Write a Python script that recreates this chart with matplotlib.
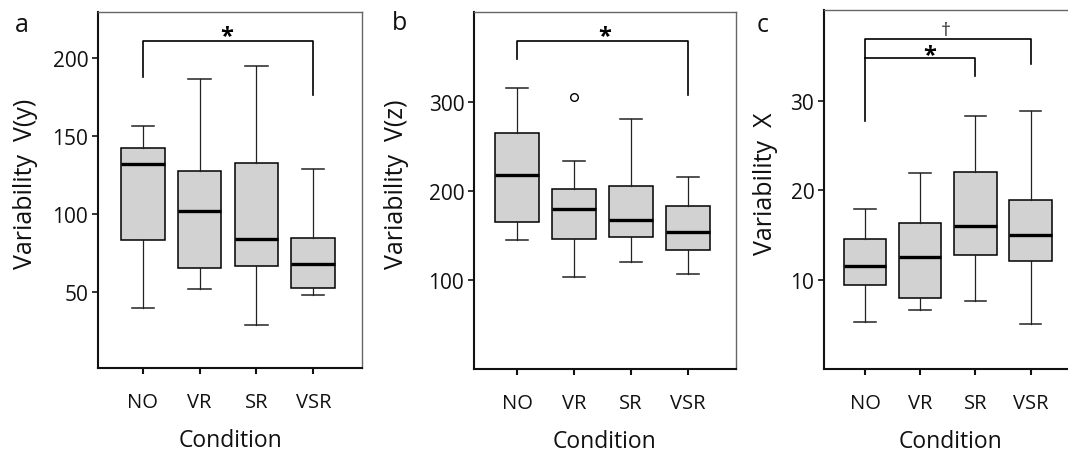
import matplotlib
matplotlib.use("Agg")
import matplotlib.pyplot as plt

plt.rcParams['font.family'] = ['Open Sans', 'DejaVu Sans']

conditions = ["NO", "VR", "SR", "VSR"]

# Panel a: Variability V(y)
a_whislo = [39.3, 51.8, 28.7, 47.6]
a_q1 = [82.9, 65.1, 66.6, 52.5]
a_med = [131.6, 101.5, 83.7, 67.7]
a_q3 = [142.1, 127.5, 132.2, 84.2]
a_whishi = [156.4, 186.3, 194.4, 128.8]
a_fliers = [[], [], [], []]

# Panel b: Variability V(z)
b_whislo = [145.1, 103.6, 120.4, 106.3]
b_q1 = [165.2, 145.9, 148.1, 133.9]
b_med = [217.3, 179.8, 166.8, 154.0]
b_q3 = [264.3, 201.9, 204.9, 183.2]
b_whishi = [315.1, 233.0, 280.7, 215.7]
b_fliers = [[], [305.4], [], []]

# Panel c: Variability X
c_whislo = [5.31, 6.63, 7.63, 5.09]
c_q1 = [9.46, 7.94, 12.71, 12.12]
c_med = [11.48, 12.57, 15.96, 14.95]
c_q3 = [14.55, 16.38, 22.1, 18.96]
c_whishi = [17.87, 21.9, 28.3, 28.9]
c_fliers = [[], [], [], []]

panels = [
    dict(letter="a", ylabel="Variability  V(y)", yticks=[50, 100, 150, 200],
         stats=(a_whislo, a_q1, a_med, a_q3, a_whishi, a_fliers),
         rect=[98, 362, 13, 369], xlim=(0.214, 4.856), ylim=(1.0, 229.3),
         ylab_x=38, letter_xy=(22, 25)),
    dict(letter="b", ylabel="Variability  V(z)", yticks=[100, 200, 300],
         stats=(b_whislo, b_q1, b_med, b_q3, b_whishi, b_fliers),
         rect=[474, 736, 13, 370], xlim=(0.238, 4.85), ylim=(0.0, 400.5),
         ylab_x=409, letter_xy=(400, 23)),
    dict(letter="c", ylabel="Variability  X", yticks=[10, 20, 30],
         stats=(c_whislo, c_q1, c_med, c_q3, c_whishi, c_fliers),
         rect=[824, 1078, 11, 370], xlim=(0.258, 4.856), ylim=(0.0, 40.2),
         ylab_x=778, letter_xy=(763, 25)),
]

W, H = 1068, 456
fig = plt.figure(figsize=(W / 100, H / 100), dpi=100)

axes = []
for p in panels:
    l, r, t, b = p["rect"]
    ax = fig.add_axes([l / W, (H - b) / H, (r - l) / W, (b - t) / H])
    axes.append(ax)
    wl, q1, md, q3, wh, fl = p["stats"]
    stats = []
    for i in range(len(conditions)):
        stats.append(dict(whislo=wl[i], q1=q1[i], med=md[i], q3=q3[i],
                          whishi=wh[i], fliers=fl[i], label=conditions[i]))
    ax.bxp(stats, positions=range(1, 5), widths=0.77, capwidths=0.39,
           patch_artist=True, showfliers=True,
           boxprops=dict(facecolor="#d2d2d2", edgecolor="black", linewidth=1.1),
           medianprops=dict(color="black", linewidth=2.4, solid_capstyle="butt"),
           whiskerprops=dict(color="#222222", linewidth=0.9),
           capprops=dict(color="#222222", linewidth=1.1),
           flierprops=dict(marker="o", markerfacecolor="white",
                           markeredgecolor="black", markersize=5.5,
                           markeredgewidth=1.0))
    ax.set_xlim(*p["xlim"])
    ax.set_ylim(*p["ylim"])
    ax.set_yticks(p["yticks"])
    ax.set_xticks(range(1, 5))
    ax.set_xticklabels(conditions)
    ax.tick_params(axis="y", direction="out", length=4, width=1.2, pad=3,
                   labelsize=15, colors="#111111")
    ax.tick_params(axis="x", direction="out", length=4, width=1.5, pad=13,
                   labelsize=14.5, colors="#111111")
    for s in ["left", "bottom"]:
        ax.spines[s].set_linewidth(1.5)
        ax.spines[s].set_color("#111111")
    for s in ["top", "right"]:
        ax.spines[s].set_linewidth(1.0)
        ax.spines[s].set_color("#666666")
    ax.set_ylabel(p["ylabel"], fontsize=18, color="#111111")
    ax.yaxis.set_label_coords((p["ylab_x"] - l) / (r - l), 0.52)
    ax.set_xlabel("Condition", fontsize=16.5, color="#111111", labelpad=12)
    lx, ly = p["letter_xy"]
    fig.text(lx / W, 1 - ly / H, p["letter"], fontsize=18, ha="center",
             va="center", color="#111111")

lw_br = 1.2
# bracket a
ax = axes[0]
ax.plot([1, 1, 4, 4], [187.8, 210.5, 210.5, 176.2], color="black", lw=lw_br)
ax.text(2.48, 206, "*", ha="center", va="bottom", fontsize=17, fontweight="bold")
# bracket b
ax = axes[1]
ax.plot([1, 1, 4, 4], [347.6, 367.5, 367.5, 307.6], color="black", lw=lw_br)
ax.text(2.53, 359.5, "*", ha="center", va="bottom", fontsize=17, fontweight="bold")
# brackets c
ax = axes[2]
ax.plot([1, 1, 4, 4], [27.78, 36.97, 36.97, 34.1], color="black", lw=lw_br)
ax.plot([1, 3, 3], [34.8, 34.8, 32.8], color="black", lw=lw_br)
ax.text(2.46, 36.9, "\u2020", ha="center", va="bottom", fontsize=14,
        color="#333333")
ax.text(2.18, 33.8, "*", ha="center", va="bottom", fontsize=17, fontweight="bold")

fig.savefig("out.png", dpi=100)
